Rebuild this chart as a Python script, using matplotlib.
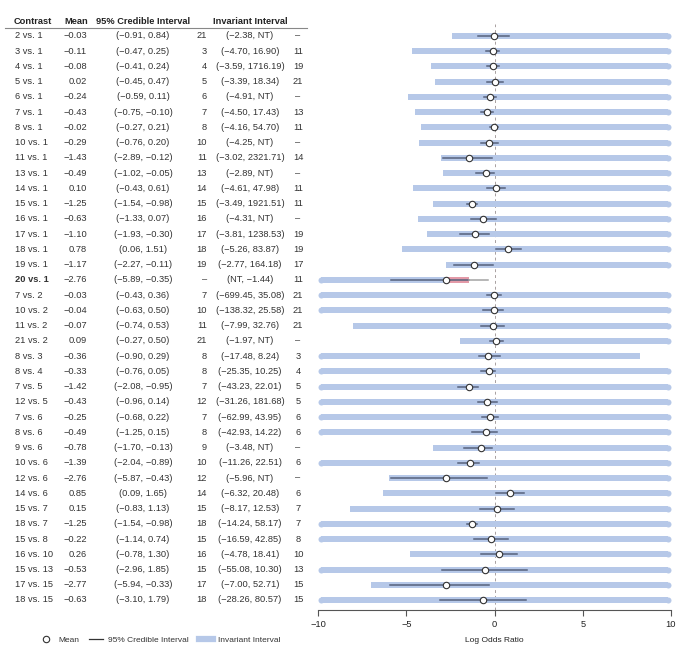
import numpy as np
import matplotlib
matplotlib.use("Agg")
import matplotlib.pyplot as plt
from matplotlib import transforms
from matplotlib.lines import Line2D

plt.rcParams['font.family'] = ['Liberation Sans', 'DejaVu Sans']
plt.rcParams['font.size'] = 6.7

#table / chart data
contrasts = ["2 vs. 1", "3 vs. 1", "4 vs. 1", "5 vs. 1", "6 vs. 1", "7 vs. 1", "8 vs. 1",
             "10 vs. 1", "11 vs. 1", "13 vs. 1", "14 vs. 1", "15 vs. 1", "16 vs. 1", "17 vs. 1",
             "18 vs. 1", "19 vs. 1", "20 vs. 1", "7 vs. 2", "10 vs. 2", "11 vs. 2", "21 vs. 2",
             "8 vs. 3", "8 vs. 4", "7 vs. 5", "12 vs. 5", "7 vs. 6", "8 vs. 6", "9 vs. 6",
             "10 vs. 6", "12 vs. 6", "14 vs. 6", "15 vs. 7", "18 vs. 7", "15 vs. 8", "16 vs. 10",
             "15 vs. 13", "17 vs. 15", "18 vs. 15"]
means = [-0.03, -0.11, -0.08, 0.02, -0.24, -0.43, -0.02, -0.29, -1.43, -0.49, 0.10, -1.25,
         -0.63, -1.10, 0.78, -1.17, -2.76, -0.03, -0.04, -0.07, 0.09, -0.36, -0.33, -1.42,
         -0.43, -0.25, -0.49, -0.78, -1.39, -2.76, 0.85, 0.15, -1.25, -0.22, 0.26, -0.53,
         -2.77, -0.63]
ci_lo = [-0.91, -0.47, -0.41, -0.45, -0.59, -0.75, -0.27, -0.76, -2.89, -1.02, -0.43, -1.54,
         -1.33, -1.93, 0.06, -2.27, -5.89, -0.43, -0.63, -0.74, -0.27, -0.90, -0.76, -2.08,
         -0.96, -0.68, -1.25, -1.70, -2.04, -5.87, 0.09, -0.83, -1.54, -1.14, -0.78, -2.96,
         -5.94, -3.10]
ci_hi = [0.84, 0.25, 0.24, 0.47, 0.11, -0.10, 0.21, 0.20, -0.12, -0.05, 0.61, -0.98,
         0.07, -0.30, 1.51, -0.11, -0.35, 0.36, 0.50, 0.53, 0.50, 0.29, 0.05, -0.95,
         0.14, 0.22, 0.15, -0.13, -0.89, -0.43, 1.65, 1.13, -0.98, 0.74, 1.30, 1.85,
         -0.33, 1.79]
NT = np.nan
inv_lo = [-2.38, -4.70, -3.59, -3.39, -4.91, -4.50, -4.16, -4.25, -3.02, -2.89, -4.61, -3.49,
          -4.31, -3.81, -5.26, -2.77, NT, -699.45, -138.32, -7.99, -1.97, -17.48, -25.35,
          -43.23, -31.26, -62.99, -42.93, -3.48, -11.26, -5.96, -6.32, -8.17, -14.24,
          -16.59, -4.78, -55.08, -7.00, -28.26]
inv_hi = [NT, 16.90, 1716.19, 18.34, NT, 17.43, 54.70, NT, 2321.71, NT, 47.98, 1921.51,
          NT, 1238.53, 83.87, 164.18, -1.44, 35.08, 25.58, 32.76, NT, 8.24, 10.25,
          22.01, 181.68, 43.95, 14.22, NT, 22.51, NT, 20.48, 12.53, 58.17,
          42.85, 18.41, 10.30, 52.71, 80.57]
lo_study = ["21", "3", "4", "5", "6", "7", "8", "10", "11", "13", "14", "15", "16", "17",
            "18", "19", "–", "7", "10", "11", "21", "8", "8", "7", "12", "7", "8", "9",
            "10", "12", "14", "15", "18", "15", "16", "15", "17", "18"]
hi_study = ["–", "11", "19", "21", "–", "13", "11", "–", "14", "–", "11", "11", "–", "19",
            "19", "17", "11", "21", "21", "21", "–", "3", "4", "5", "5", "6", "6", "–",
            "6", "–", "6", "7", "7", "8", "10", "13", "15", "15"]
flagged = ["20 vs. 1"]

blue = '#b6c8e8'
red = '#e39aa8'
W, H = 682, 665

fig = plt.figure(figsize=(W / 100, H / 100), dpi=100)
n = len(contrasts)
row_px = (600 - 36) / (n - 1)
ax_top, ax_bot = 24, 610
ax = fig.add_axes([318 / W, (H - ax_bot) / H, (671 - 318) / W, (ax_bot - ax_top) / H])
ax.set_xlim(-10, 10)
ax.set_ylim(n - 1 + (ax_bot - 600) / row_px, -(36 - ax_top) / row_px)

ys = np.arange(n)
bar_h = 6 / row_px
r = 3 / ((671 - 318) / 20)

ax.axvline(0, color='#a8a0a0', lw=0.7, ls=(0, (3, 3)), zorder=1)

def fmt(v):
    if np.isnan(v):
        return "NT"
    return f"{v:.2f}".replace("-", "\u2212")

for i in range(n):
    y = ys[i]
    lo = -10 if np.isnan(inv_lo[i]) else max(inv_lo[i], -10)
    hi = 10 if np.isnan(inv_hi[i]) else min(inv_hi[i], 10)
    a = lo + r if lo == -10 else lo
    b = hi - r if hi == 10 else hi
    ax.barh(y, b - a, left=a, height=bar_h, color=blue, lw=0, zorder=2)
    if lo == -10:
        ax.plot(a, y, 'o', ms=6 * 0.72, color=blue, mew=0, zorder=2)
    if hi == 10:
        ax.plot(b, y, 'o', ms=6 * 0.72, color=blue, mew=0, zorder=2)
    if contrasts[i] in flagged:
        ax.barh(y, hi - means[i], left=means[i], height=bar_h, color=red, lw=0, zorder=3)
    # credible interval: darker over the bar, grey outside it
    in_lo, in_hi = max(ci_lo[i], lo), min(ci_hi[i], hi)
    if in_hi > in_lo:
        ax.plot([in_lo, in_hi], [y, y], color='#56627c', lw=1.1, zorder=4)
    if ci_hi[i] > hi:
        ax.plot([hi, ci_hi[i]], [y, y], color='#a3a3a3', lw=1.1, zorder=4)
    if ci_lo[i] < lo:
        ax.plot([ci_lo[i], lo], [y, y], color='#a3a3a3', lw=1.1, zorder=4)
    ax.plot(means[i], y, 'o', ms=4.6, mfc='white', mec='#333333', mew=0.8, zorder=5)

for s in ['top', 'right', 'left']:
    ax.spines[s].set_visible(False)
ax.spines['bottom'].set_color('#555555')
ax.spines['bottom'].set_linewidth(0.8)
ax.set_yticks([])
ax.set_xticks([-10, -5, 0, 5, 10])
ax.tick_params(axis='x', length=4, width=0.8, color='#555555', labelcolor='#222222', pad=3,
               labelsize=6.7)
ax.set_xlabel("Log Odds Ratio", color='#222222', labelpad=6, fontsize=6)

#table on the left
tr = transforms.blended_transform_factory(fig.transFigure, ax.transData)
hy = -(36 - 22) / row_px
heads = [("Contrast", 14, 'left'), ("Mean", 88, 'right'), ("95% Credible Interval", 143, 'center'),
         ("Invariant Interval", 250, 'center')]
for txt, x, ha in heads:
    ax.text(x / W, hy, txt, transform=tr, ha=ha, va='center', fontweight='bold', color='#222222')
ax.add_line(Line2D([5 / W, 307 / W], [-(36 - 28) / row_px] * 2, transform=tr, color='#888888',
                   lw=0.8, clip_on=False))

for i in range(n):
    y = ys[i]
    bold = 'bold' if contrasts[i] in flagged else 'normal'
    kw = dict(transform=tr, va='center', color='#333333')
    ax.text(15 / W, y, contrasts[i], ha='left', fontweight=bold, **kw)
    ax.text(87 / W, y, fmt(means[i]), ha='right', **kw)
    ax.text(143 / W, y, f"({fmt(ci_lo[i])}, {fmt(ci_hi[i])})", ha='center', **kw)
    ax.text(207 / W, y, lo_study[i], ha='right', **kw)
    ax.text(250 / W, y, f"({fmt(inv_lo[i])}, {fmt(inv_hi[i])})", ha='center', **kw)
    ax.text(298 / W, y, hi_study[i], ha='center', **kw)

#legend
handles = [Line2D([], [], marker='o', ls='none', ms=4.6, mfc='white', mec='#333333', mew=0.8),
           Line2D([], [], color='#333333', lw=0.9),
           Line2D([], [], color=blue, lw=4.5)]
fig.legend(handles, ["Mean", "95% Credible Interval", "Invariant Interval"], loc='center',
           bbox_to_anchor=(160 / W, (H - 640) / H), ncol=3, frameon=False, handlelength=1.7,
           handletextpad=0.6, columnspacing=1.2, labelcolor='#333333', fontsize=6)

fig.savefig("out.png", dpi=100)
